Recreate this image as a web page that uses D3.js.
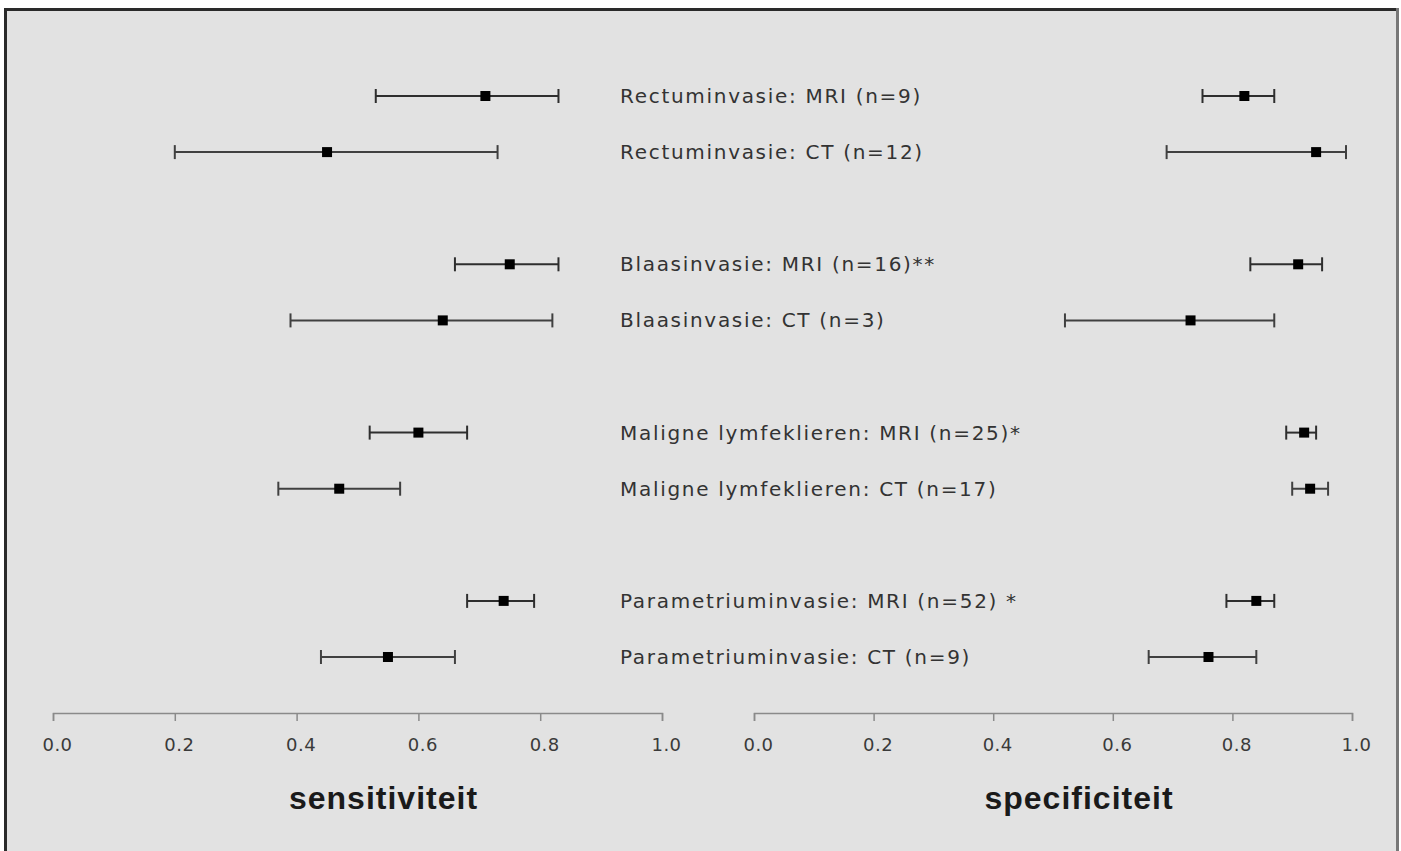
<!DOCTYPE html>
<html>
<head>
<meta charset="utf-8">
<script src="https://cdn.jsdelivr.net/npm/d3@7"></script>
<style>
  html, body { margin: 0; padding: 0; background: #ffffff; }
  svg { display: block; }
</style>
</head>
<body>
<svg id="chart" width="1401" height="851"></svg>
<script>
// ---- data ----
const labels = [
  "Rectuminvasie: MRI (n=9)",
  "Rectuminvasie: CT (n=12)",
  "Blaasinvasie: MRI (n=16)**",
  "Blaasinvasie: CT (n=3)",
  "Maligne lymfeklieren: MRI (n=25)*",
  "Maligne lymfeklieren: CT (n=17)",
  "Parametriuminvasie: MRI (n=52) *",
  "Parametriuminvasie: CT (n=9)"
];
const groups = [0, 0, 1, 1, 2, 2, 3, 3];
const sensPoint = [0.71, 0.45, 0.75, 0.64, 0.60, 0.47, 0.74, 0.55];
const sensLow   = [0.53, 0.20, 0.66, 0.39, 0.52, 0.37, 0.68, 0.44];
const sensHigh  = [0.83, 0.73, 0.83, 0.82, 0.68, 0.57, 0.79, 0.66];
const specPoint = [0.82, 0.94, 0.91, 0.73, 0.92, 0.93, 0.84, 0.76];
const specLow   = [0.75, 0.69, 0.83, 0.52, 0.89, 0.90, 0.79, 0.66];
const specHigh  = [0.87, 0.99, 0.95, 0.87, 0.94, 0.96, 0.87, 0.84];
const tickValues = [0, 0.2, 0.4, 0.6, 0.8, 1.0];
const axisTitles = ["sensitiviteit", "specificiteit"];

// ---- layout ----
const svg = d3.select("#chart");
const W = 1401, H = 851;

svg.append("rect").attr("x", 0).attr("y", 0).attr("width", W).attr("height", H).attr("fill", "#ffffff");
svg.append("rect").attr("x", 6).attr("y", 10).attr("width", 1391).attr("height", 850).attr("fill", "#e2e2e2");
// frame: top & left dark, right lighter
svg.append("line").attr("x1", 5).attr("x2", 1398).attr("y1", 9.5).attr("y2", 9.5).attr("stroke", "#2a2a2a").attr("stroke-width", 3);
svg.append("line").attr("x1", 5.5).attr("x2", 5.5).attr("y1", 8).attr("y2", H).attr("stroke", "#2a2a2a").attr("stroke-width", 3);
svg.append("line").attr("x1", 1397.5).attr("x2", 1397.5).attr("y1", 8).attr("y2", H).attr("stroke", "#777777").attr("stroke-width", 3);

const rowIdx = labels.map((d, i) => i);
// slot positions: one empty slot between groups
const slot = d3.scaleLinear().domain([0, 10]).range([96, 657]);
const yPos = i => slot(i + groups[i]);

const xSens = d3.scaleLinear().domain([0, 1]).range([53, 662]);
const xSpec = d3.scaleLinear().domain([0, 1]).range([754, 1352]);
const axisY = 713;

function drawPanel(x, pts, lo, hi, title) {
  const g = svg.append("g");
  rowIdx.forEach(i => {
    const y = yPos(i);
    const col = i % 2 === 1 ? "#404040" : "#2e2e2e";
    g.append("line").attr("x1", x(lo[i])).attr("x2", x(hi[i])).attr("y1", y).attr("y2", y)
      .attr("stroke", col).attr("stroke-width", 2);
    [lo[i], hi[i]].forEach(v => {
      g.append("line").attr("x1", x(v)).attr("x2", x(v)).attr("y1", y - 7).attr("y2", y + 7)
        .attr("stroke", col).attr("stroke-width", 2);
    });
    g.append("rect").attr("x", x(pts[i]) - 5).attr("y", y - 5).attr("width", 10).attr("height", 10)
      .attr("fill", "#000000");
  });
  const ax = svg.append("g").attr("transform", `translate(0,${axisY})`)
    .call(d3.axisBottom(x).tickValues(tickValues).tickFormat(d3.format(".1f")).tickSize(8).tickSizeOuter(8));
  ax.select(".domain").attr("stroke", "#8a8a8a").attr("stroke-width", 1.5);
  ax.selectAll(".tick line").attr("stroke", "#8a8a8a").attr("stroke-width", 1.5);
  ax.selectAll(".tick text").attr("fill", "#3a3a3a").attr("font-family", "DejaVu Sans, Verdana, sans-serif")
    .attr("font-size", 18).attr("letter-spacing", 0.5).attr("y", 32).attr("dy", "0.36em").attr("dx", "4");
  const xr = x.range();
  svg.append("text").attr("x", (xr[0] + xr[1]) / 2 + 26).attr("y", 809).attr("text-anchor", "middle")
    .attr("font-family", "Liberation Sans, Arial, sans-serif").attr("font-weight", "bold").attr("font-size", 32)
    .attr("letter-spacing", 1.0)
    .attr("fill", "#1a1a1a").text(title);
}

drawPanel(xSens, sensPoint, sensLow, sensHigh, axisTitles[0]);
drawPanel(xSpec, specPoint, specLow, specHigh, axisTitles[1]);

svg.append("g").selectAll("text").data(labels).join("text")
  .attr("x", 620).attr("y", (d, i) => yPos(i) + 7)
  .attr("font-family", "DejaVu Sans, Verdana, sans-serif").attr("font-size", 20)
  .attr("letter-spacing", 1.7)
  .attr("fill", "#333333")
  .text(d => d);
</script>
</body>
</html>
